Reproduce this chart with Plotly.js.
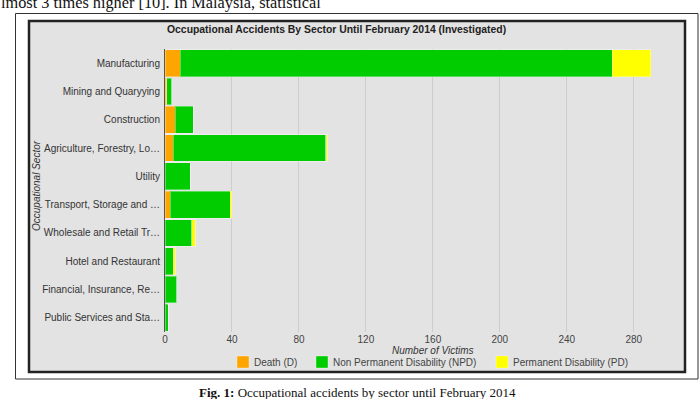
<!DOCTYPE html>
<html><head><meta charset="utf-8">
<script src="https://cdn.plot.ly/plotly-3.0.1.min.js"></script>
<style>html,body{margin:0;padding:0;background:#fff;}#chart{width:700px;height:399px;}</style>
</head><body><div id="chart"></div>
<script>
const sectors = ["Manufacturing","Mining and Quaryying","Construction","Agriculture, Forestry, Lo…","Utility","Transport, Storage and …","Wholesale and Retail Tr…","Hotel and Restaurant","Financial, Insurance, Re…","Public Services and Sta…"];
const death = [9, 1, 6, 5, 0, 3, 0, 0, 0, 0];
const npd   = [258, 3, 11, 91, 15, 36, 16, 5, 7, 2];
const pd    = [23, 0, 0, 1, 0, 1, 2, 1, 0, 0];
const xTicks = [0, 40, 80, 120, 160, 200, 240, 280];
const seriesNames = ["Death (D)", "Non Permanent Disability (NPD)", "Permanent Disability (PD)"];
const chartTitle = "Occupational Accidents By Sector Until February 2014 (Investigated)";
const xTitle = "Number of Victims";
const yTitle = "Occupational Sector";
const topText = "lmost 3 times higher [10]. In Malaysia, statistical";
const caption = "<b>Fig. 1:</b> Occupational accidents by sector until February 2014";

const W = 700, H = 399;
const M = {l:165, r:16, t:49, b:67};
const pw = W - M.l - M.r, ph = H - M.t - M.b;
const px = v => (v - M.l) / pw;
const py = v => (H - M.b - v) / ph;

const colors = ["#FFA500", "#00CC00", "#FFFF00"];
const vals = [death, npd, pd];
const traces = vals.map((v, i) => ({
  type: "bar", orientation: "h", x: v, y: sectors, name: seriesNames[i],
  marker: {color: colors[i], line: {color: "rgba(255,255,255,0.35)", width: 1}},
  hoverinfo: "x+name", showlegend: false
}));

const font = "Liberation Sans, Arial, sans-serif";
const serif = "Liberation Serif, Times New Roman, serif";

// legend drawn as squares + labels (positions in pixels)
const legendSquareX = [237, 316, 496];
const legendY = 362;
const legendShapes = colors.map((c, i) => ({
  type: "rect", xref: "paper", yref: "paper",
  x0: px(legendSquareX[i]), x1: px(legendSquareX[i] + 12), y0: py(legendY + 6), y1: py(legendY - 6),
  fillcolor: c, line: {color: "rgba(255,255,255,0.35)", width: 1}
}));
const legendAnn = seriesNames.map((n, i) => ({
  text: n, xref: "paper", yref: "paper", x: px(legendSquareX[i] + 15), xanchor: "left",
  y: py(legendY), yanchor: "middle", showarrow: false, font: {family: font, size: 10, color: "#444"}
}));

const layout = {
  width: W, height: H, margin: M,
  paper_bgcolor: "#ffffff", plot_bgcolor: "#e3e3e3",
  barmode: "stack", bargap: 0.05,
  font: {family: font, size: 10, color: "#444"},
  showlegend: false,
  xaxis: {range: [0, 310], tickvals: xTicks, ticktext: xTicks.map(String), showgrid: true,
          gridcolor: "#cdcdcd", gridwidth: 1, zeroline: false, showline: false, ticks: "",
          tickfont: {family: font, size: 10, color: "#444"}, fixedrange: true},
  yaxis: {autorange: "reversed", type: "category", showgrid: false, zeroline: false,
          showline: true, linecolor: "#555", linewidth: 1, ticks: "", ticklabelstandoff: 2,
          tickfont: {family: font, size: 10, color: "#333"}, fixedrange: true},
  shapes: [
    {type: "rect", xref: "paper", yref: "paper", x0: px(30), x1: px(684), y0: py(371), y1: py(22),
     fillcolor: "#e3e3e3", line: {width: 0}, layer: "below"},
    {type: "rect", xref: "paper", yref: "paper", x0: px(29), x1: px(685), y0: py(372), y1: py(21),
     fillcolor: "rgba(0,0,0,0)", line: {color: "#222", width: 2.5}},
    {type: "rect", xref: "paper", yref: "paper", x0: px(15.5), x1: px(698), y0: py(379), y1: py(13.5),
     fillcolor: "rgba(0,0,0,0)", line: {color: "#333", width: 1}}
  ].concat(legendShapes),
  annotations: [
    {text: "<b>" + chartTitle + "</b>", xref: "paper", yref: "paper", x: px(165), xanchor: "left",
     y: py(30), yanchor: "middle", showarrow: false, font: {family: font, size: 10.4, color: "#222"}},
    {text: "<i>" + xTitle + "</i>", xref: "paper", yref: "paper", x: px(433), xanchor: "center",
     y: py(350), yanchor: "middle", showarrow: false, font: {family: font, size: 10, color: "#333"}},
    {text: "<i>" + yTitle + "</i>", xref: "paper", yref: "paper", x: px(36), xanchor: "center",
     y: py(186), yanchor: "middle", textangle: -90, showarrow: false, font: {family: font, size: 10, color: "#333"}},
    {text: topText, xref: "paper", yref: "paper", x: px(-1), xanchor: "left",
     y: py(14), yanchor: "bottom", showarrow: false, font: {family: serif, size: 16.3, color: "#111"}},
    {text: caption, xref: "paper", yref: "paper", x: px(357), xanchor: "center",
     y: py(392), yanchor: "middle", showarrow: false, font: {family: serif, size: 13, color: "#111"}}
  ].concat(legendAnn)
};
Plotly.newPlot("chart", traces, layout, {displayModeBar: false, staticPlot: true});
</script></body></html>
